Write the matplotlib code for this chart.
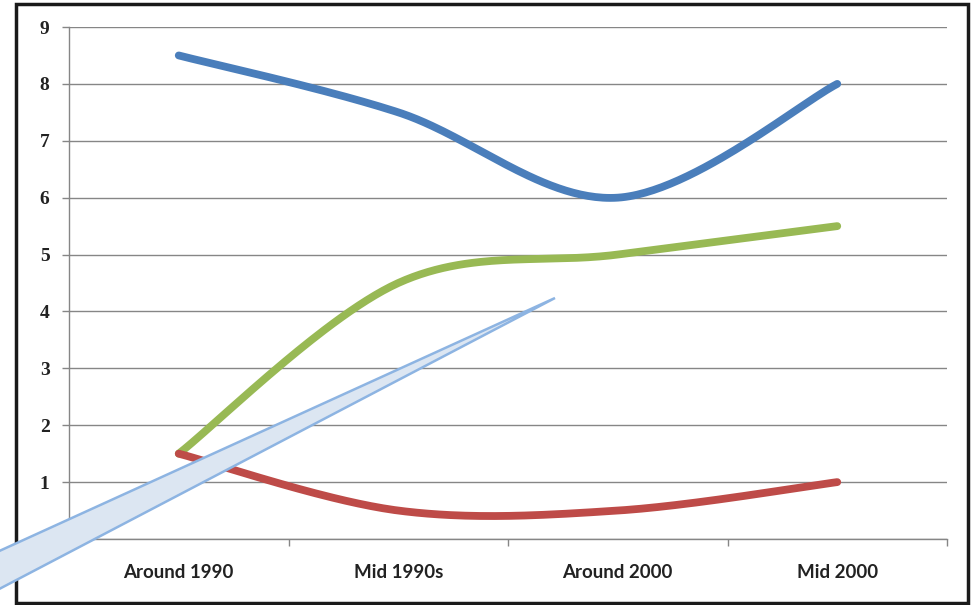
import numpy as np
import matplotlib
matplotlib.use("Agg")
import matplotlib.pyplot as plt
from matplotlib.patches import Polygon, Rectangle

# Chart values
periods = ["Around 1990", "Mid 1990s", "Around 2000", "Mid 2000"]
blue_vals = [8.5, 7.5, 6.0, 8.0]
green_vals = [1.5, 4.5, 5.0, 5.5]
red_vals = [1.5, 0.5, 0.5, 1.0]
y_ticks = [0, 1, 2, 3, 4, 5, 6, 7, 8, 9]

series = [
    (blue_vals, "#4A7EBB"),
    (green_vals, "#98B954"),
    (red_vals, "#BE4B48"),
]


# Excel-style smoothed line: cubic Bezier segments with Catmull-Rom control points
def smooth(xs, ys, n=60):
    xs = np.asarray(xs, float)
    ys = np.asarray(ys, float)
    px = np.concatenate([[xs[0]], xs, [xs[-1]]])
    py = np.concatenate([[ys[0]], ys, [ys[-1]]])
    out_x, out_y = [], []
    t = np.linspace(0, 1, n)
    for i in range(1, len(xs)):
        p0 = np.array([px[i], py[i]])
        p3 = np.array([px[i + 1], py[i + 1]])
        c1 = p0 + (np.array([px[i + 1], py[i + 1]]) - np.array([px[i - 1], py[i - 1]])) / 6
        c2 = p3 - (np.array([px[i + 2], py[i + 2]]) - np.array([px[i], py[i]])) / 6
        b = ((1 - t) ** 3)[:, None] * p0 + (3 * (1 - t) ** 2 * t)[:, None] * c1 \
            + (3 * (1 - t) * t ** 2)[:, None] * c2 + (t ** 3)[:, None] * p3
        out_x.extend(b[:, 0])
        out_y.extend(b[:, 1])
    return np.array(out_x), np.array(out_y)


fig = plt.figure(figsize=(9.8, 6.05), dpi=100)
ax = fig.add_axes([69 / 980, 1 - 539 / 605, (947 - 69) / 980, (539 - 27) / 605])

x = np.arange(len(periods))
for vals, color in series:
    sx, sy = smooth(x, vals)
    ax.plot(sx, sy, color=color, lw=5.6, solid_capstyle="round", zorder=3)

ax.set_xlim(-0.5, len(periods) - 0.5)
ax.set_ylim(0, 9)
ax.set_yticks(y_ticks)
ax.set_yticklabels([str(v) for v in y_ticks], fontfamily="Liberation Serif",
                   fontweight="bold", fontsize=14, color="#222222")
ax.set_xticks(x)
ax.set_xticklabels(periods, fontfamily="Lato", fontweight="bold", fontsize=13.5,
                   color="#222222")
ax.set_xticks(np.arange(len(periods) + 1) - 0.5, minor=True)
ax.tick_params(axis="x", which="major", length=0, pad=18)
ax.tick_params(axis="x", which="minor", length=5, color="#868686", width=1)
ax.tick_params(axis="y", length=5, color="#868686", width=1, pad=9)

ax.grid(axis="y", color="#868686", lw=1)
ax.set_axisbelow(True)
for side in ["top", "right"]:
    ax.spines[side].set_visible(False)
for side in ["left", "bottom"]:
    ax.spines[side].set_color("#868686")
    ax.spines[side].set_linewidth(1)


def px(xp, yp):
    return (xp / 980, 1 - yp / 605)


# outer frame
fig.patches.append(Rectangle(px(16, 603), 952 / 980, 599 / 605, transform=fig.transFigure,
                             fill=False, edgecolor="#1a1a1a", lw=2.5, zorder=10))

# callout tail
tail = [px(555, 298), px(-60, 578), px(-60, 620)]
fig.patches.append(Polygon(tail, closed=True, transform=fig.transFigure,
                           facecolor="#DCE6F2", edgecolor="#8DB4E2", lw=1.8, zorder=11))

fig.savefig("out.png", dpi=100)
